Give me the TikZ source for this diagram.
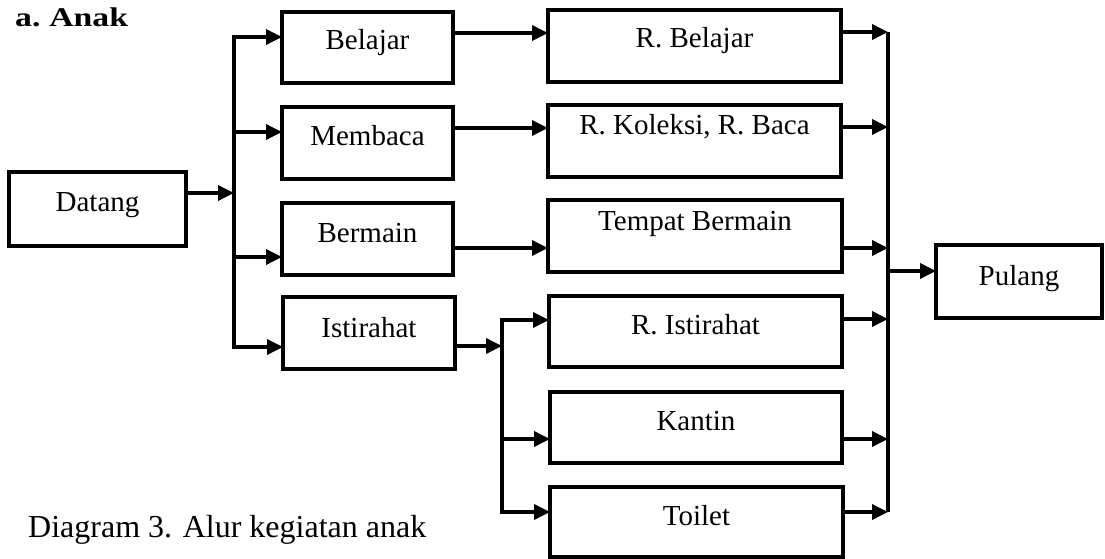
\documentclass[tikz,border=0pt]{standalone}
\usepackage{fontspec}
\setmainfont{Liberation Serif}
\usetikzlibrary{arrows.meta}
\tikzset{
  box/.style={draw, line width=4.2pt, inner sep=0pt, outer sep=0pt, anchor=base,
    font=\fontsize{29}{31}\selectfont},
  arr/.style={line width=3.5pt, -{Triangle[length=16pt,width=15pt]}},
  bus/.style={line width=3.8pt},
}
\begin{document}
\begin{tikzpicture}[x=1pt,y=-1pt]
\useasboundingbox (0,0) rectangle (1105,559);
% boxes
\node[box, minimum width=177pt, text height=39pt, text depth=35pt] (Datang) at (97.5,211) {Datang};
\node[box, minimum width=171pt, text height=38pt, text depth=33pt] (Belajar) at (367.5,50) {Belajar};
\node[box, minimum width=171pt, text height=39pt, text depth=33pt] (Membaca) at (367.5,146) {Membaca};
\node[box, minimum width=171pt, text height=39pt, text depth=33pt] (Bermain) at (367.5,242) {Bermain};
\node[box, minimum width=172pt, text height=40pt, text depth=32pt] (Istirahat) at (369,337) {Istirahat};
\node[box, minimum width=293pt, text height=38pt, text depth=34pt] (RBelajar) at (694.5,48) {R. Belajar};
\node[box, minimum width=293pt, text height=30pt, text depth=42pt] (RKoleksi) at (694.5,135) {R. Koleksi, R. Baca};
\node[box, minimum width=294pt, text height=30pt, text depth=42pt] (Tempat) at (695,230) {Tempat Bermain};
\node[box, minimum width=293pt, text height=38pt, text depth=33pt] (RIstirahat) at (695.5,334) {R. Istirahat};
\node[box, minimum width=292pt, text height=38pt, text depth=33pt] (Kantin) at (696,430) {Kantin};
\node[box, minimum width=293pt, text height=38pt, text depth=32pt] (Toilet) at (696.5,525) {Toilet};
\node[box, minimum width=166pt, text height=40pt, text depth=33pt] (Pulang) at (1019,285) {Pulang};
% texts
\node[anchor=base west, inner sep=0pt] (title) at (15,27)
  {\scalebox{1.25}[1]{\fontsize{27}{30}\selectfont\bfseries a.\hspace{7pt}Anak}};
\node[anchor=base west, inner sep=0pt] (caption) at (28,537)
  {\fontsize{32}{36}\selectfont Diagram 3. Alur kegiatan anak};
% junction coordinates
\coordinate (b1) at (234,193);
\coordinate (b2) at (502,346);
\coordinate (b3) at (888,271);
\coordinate (b3top) at (888,32);
\coordinate (b3bot) at (888,512);
% first fan-out
\draw[arr] (Datang.east |- b1) -- (b1);
\draw[arr] (b1) |- (Belajar.west |- 0,37);
\draw[arr] (b1) |- (Membaca.west |- 0,132);
\draw[arr] (b1) |- (Bermain.west |- 0,257);
\draw[arr] (b1) |- (Istirahat.west |- 0,347);
% activity to place
\draw[arr] (Belajar.east |- 0,33) -- (RBelajar.west |- 0,33);
\draw[arr] (Membaca.east |- 0,128) -- (RKoleksi.west |- 0,128);
\draw[arr] (Bermain.east |- 0,248) -- (Tempat.west |- 0,248);
\draw[arr] (Istirahat.east |- b2) -- (b2);
\draw[arr] (b2) |- (RIstirahat.west |- 0,320);
\draw[arr] (b2) |- (Kantin.west |- 0,439);
\draw[arr] (b2) |- (Toilet.west |- 0,512);
% fan-in
\draw[bus] (b3top) -- (b3bot);
\draw[arr] (RBelajar.east |- b3top) -- (b3top);
\draw[arr] (RKoleksi.east |- 0,127) -- (b3 |- 0,127);
\draw[arr] (Tempat.east |- 0,248) -- (b3 |- 0,248);
\draw[arr] (RIstirahat.east |- 0,319) -- (b3 |- 0,319);
\draw[arr] (Kantin.east |- 0,439) -- (b3 |- 0,439);
\draw[arr] (Toilet.east |- b3bot) -- (b3bot);
\draw[arr] (b3) -- (Pulang.west |- b3);
\end{tikzpicture}
\end{document}
